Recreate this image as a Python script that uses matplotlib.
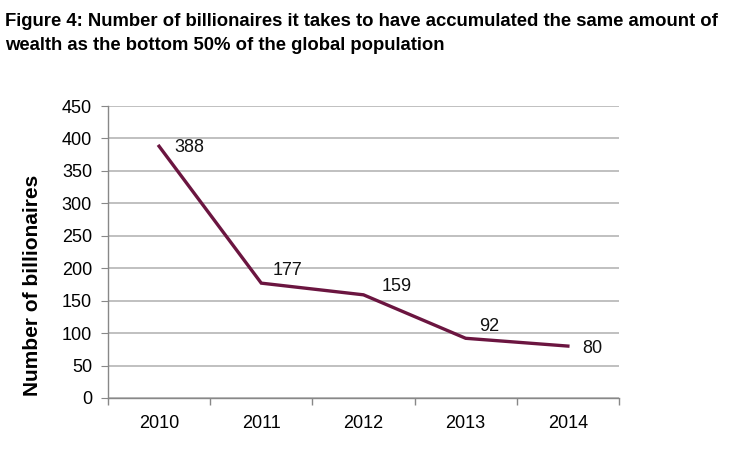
import matplotlib
matplotlib.use("Agg")
import matplotlib.pyplot as plt
import numpy as np

years = ["2010", "2011", "2012", "2013", "2014"]
billionaires = [388, 177, 159, 92, 80]

# label offsets in pixels (dx, dy) relative to the data point
label_offsets = [(15, -1), (11, 13), (18, 8), (13, 12), (14, -2)]

plt.rcParams['font.family'] = ['Liberation Sans', 'DejaVu Sans']

fig = plt.figure(figsize=(7.36, 4.68), dpi=100)
ax = fig.add_axes([0.1467, 0.1496, 0.841 - 0.1467, 0.7735 - 0.1496])

x = np.arange(len(years))
color = '#6b1540'
ax.plot(x, billionaires, color=color, lw=2.4, solid_joinstyle='miter')

for xi, v, (dx, dy) in zip(x, billionaires, label_offsets):
    ax.annotate(str(v), (xi, v), xytext=(dx * 0.72, dy * 0.72), textcoords='offset points',
                ha='left', va='center', fontsize=13, color='#111111')

ax.set_xlim(-0.5, len(years) - 0.5)
ax.set_ylim(0, 450)
ax.set_yticks(np.arange(0, 451, 50))
ax.set_xticks(x)
ax.set_xticklabels(years)
ax.set_xticks(np.arange(-0.5, len(years)), minor=True)
ax.tick_params(axis='x', which='major', length=0, pad=12, labelsize=13)
ax.tick_params(axis='x', which='minor', length=5, color='#888888', width=1)
ax.tick_params(axis='y', length=5, color='#888888', labelsize=13, pad=6.5)

ax.grid(axis='y', color='#b5b5b5', lw=1.2)
ax.set_axisbelow(True)
for s in ['top', 'right']:
    ax.spines[s].set_visible(False)
for s in ['left', 'bottom']:
    ax.spines[s].set_color('#888888')
    ax.spines[s].set_linewidth(1)

ax.set_ylabel("Number of billionaires", fontsize=15, fontweight='bold')
ax.yaxis.set_label_coords(-0.129, 0.387)

fig.text(0.007, 0.972, "Figure 4: Number of billionaires it takes to have accumulated the same amount of\nwealth as the bottom 50% of the global population",
         ha='left', va='top', fontsize=13.3, fontweight='bold',
         family=['Liberation Sans Narrow', 'Liberation Sans'], linespacing=1.55)

fig.savefig("out.png", dpi=100)
